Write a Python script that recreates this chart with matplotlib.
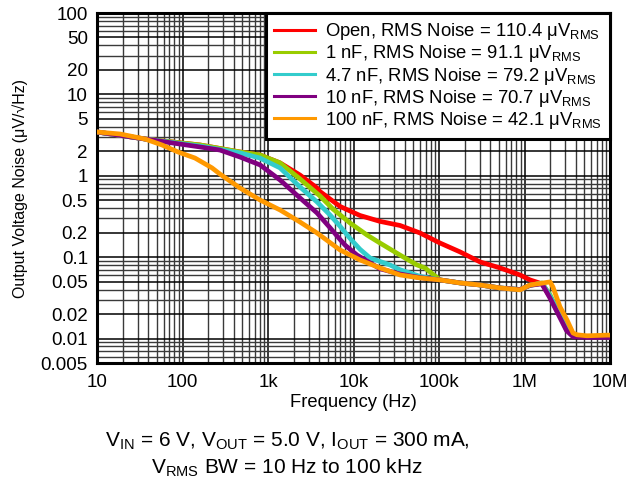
import matplotlib
matplotlib.use("Agg")
import matplotlib.pyplot as plt
from matplotlib.ticker import FixedLocator, FixedFormatter, LogLocator, NullFormatter

plt.rcParams['font.family'] = ['Liberation Sans', 'DejaVu Sans']
plt.rcParams['mathtext.fontset'] = 'custom'
plt.rcParams['mathtext.rm'] = 'Liberation Sans'

# ---- data ----
open_f = [10, 36.4, 160, 470, 806, 1381, 2367, 3742, 4055, 6950, 11900, 20400, 35000,
          60000, 102800, 176000, 302000, 517000, 886000, 1160000, 1600000, 2000000,
          2600000, 3100000, 3700000, 5380000, 10000000]
open_v = [3.45, 2.83, 2.39, 1.96, 1.80, 1.44, 1.02, 0.708, 0.64, 0.42, 0.325, 0.275, 0.245,
          0.198, 0.149, 0.116, 0.0873, 0.0737, 0.0604, 0.0525, 0.047, 0.032,
          0.019, 0.013, 0.0108, 0.0105, 0.0105]

nf1_f = [10, 36.4, 160, 470, 806, 1381, 2367, 4055, 5755, 9100, 14380, 20400, 35000,
         55300, 68600, 102800, 176000, 302000, 517000, 886000, 1160000, 1600000, 2000000,
         2600000, 3100000, 3700000, 5380000, 10000000]
nf1_v = [3.45, 2.83, 2.39, 1.96, 1.80, 1.44, 0.914, 0.565, 0.390, 0.263, 0.187, 0.149, 0.106,
         0.0802, 0.0737, 0.0525, 0.0482, 0.0455, 0.0418, 0.040, 0.045, 0.048, 0.034,
         0.019, 0.013, 0.0108, 0.0105, 0.0105]

nf47_f = [10, 36.4, 160, 470, 806, 1381, 2367, 3742, 5310, 6950, 9100, 11900, 15600, 26700,
          35000, 60000, 102800, 176000, 302000, 517000, 886000, 1160000, 1600000, 2000000,
          2600000, 3100000, 3700000, 5380000, 10000000]
nf47_v = [3.45, 2.83, 2.32, 1.91, 1.65, 1.25, 0.728, 0.477, 0.330, 0.240, 0.170, 0.125,
          0.0977, 0.0802, 0.070, 0.058, 0.0525, 0.0482, 0.0455, 0.0418, 0.040, 0.045,
          0.048, 0.033, 0.019, 0.013, 0.0108, 0.0105, 0.0105]

nf10_f = [10, 36.4, 160, 274, 470, 806, 1381, 2367, 3742, 5310, 6950, 8000, 11000,
          20400, 35000, 60000, 102800, 176000, 302000, 517000, 886000, 1160000, 1600000,
          2000000, 2600000, 3100000, 3700000, 5380000, 10000000]
nf10_v = [3.45, 2.83, 2.26, 2.07, 1.70, 1.36, 0.888, 0.534, 0.349, 0.230, 0.165, 0.140,
          0.106, 0.072, 0.062, 0.056, 0.0525, 0.0482, 0.0455, 0.0418, 0.040, 0.045,
          0.047, 0.031, 0.018, 0.0125, 0.0105, 0.0103, 0.0103]

nf100_f = [10, 18.6, 36.4, 57.5, 88.6, 140, 221, 274, 470, 806, 1381, 2367, 3742, 6950,
           11900, 20400, 35000, 60000, 102800, 176000, 302000, 517000, 886000, 1160000,
           1990000, 2150000, 2600000, 3140000, 3690000, 4110000, 5380000, 9200000, 10000000]
nf100_v = [3.45, 3.26, 2.83, 2.39, 1.96, 1.65, 1.25, 1.05, 0.708, 0.504, 0.380, 0.270,
           0.198, 0.1226, 0.0924, 0.0737, 0.0604, 0.0555, 0.0525, 0.0482, 0.0455, 0.0418,
           0.0396, 0.0455, 0.0496, 0.043, 0.0245, 0.0169, 0.0117, 0.0111, 0.0108, 0.011,
           0.011]

labels = [r'Open, RMS Noise = 110.4 μV$_\mathregular{RMS}$',
          r'1 nF, RMS Noise = 91.1 μV$_\mathregular{RMS}$',
          r'4.7 nF, RMS Noise = 79.2 μV$_\mathregular{RMS}$',
          r'10 nF, RMS Noise = 70.7 μV$_\mathregular{RMS}$',
          r'100 nF, RMS Noise = 42.1 μV$_\mathregular{RMS}$']
colors = ['#ff0000', '#99cc00', '#33cccc', '#800080', '#ff9900']

xticks = [10, 100, 1e3, 1e4, 1e5, 1e6, 1e7]
xticklabels = ['10', '100', '1k', '10k', '100k', '1M', '10M']
yticks = [0.005, 0.01, 0.02, 0.05, 0.1, 0.2, 0.5, 1, 2, 5, 10, 20, 50, 100]
yticklabels = ['0.005', '0.01', '0.02', '0.05', '0.1', '0.2', '0.5', '1', '2', '5',
               '10', '20', '50', '100']

# ---- figure ----
fig = plt.figure(figsize=(6.27, 4.87), dpi=100)
ax = fig.add_axes([97/627, 1-363/487, (610-97)/627, (363-13)/487])

series = [(open_f, open_v), (nf1_f, nf1_v), (nf47_f, nf47_v), (nf10_f, nf10_v), (nf100_f, nf100_v)]
handles = []
for (f, v), c, lab in zip(series, colors, labels):
    ax.plot(f, v, color=c, lw=3.4, solid_joinstyle='round', zorder=3)
    h, = ax.plot([], [], color=c, lw=2.2, label=lab)
    handles.append(h)

ax.set_xscale('log')
ax.set_yscale('log')
ax.set_xlim(10, 1e7)
ax.set_ylim(0.005, 100)

ax.xaxis.set_major_locator(FixedLocator(xticks))
ax.xaxis.set_major_formatter(FixedFormatter(xticklabels))
ax.yaxis.set_major_locator(FixedLocator(yticks))
ax.yaxis.set_major_formatter(FixedFormatter(yticklabels))
ax.xaxis.set_minor_locator(LogLocator(base=10, subs=range(2, 10), numticks=20))
ax.yaxis.set_minor_locator(LogLocator(base=10, subs=range(2, 10), numticks=20))
ax.xaxis.set_minor_formatter(NullFormatter())
ax.yaxis.set_minor_formatter(NullFormatter())

ax.grid(True, which='major', color='black', lw=1.1, zorder=1)
ax.grid(True, which='minor', color='#3a3a3a', lw=1.0, zorder=1)
ax.set_axisbelow(True)

ax.tick_params(which='both', direction='in', length=0, labelsize=13.5)
ax.tick_params(axis='x', pad=8)
ax.tick_params(axis='y', pad=6.5)
for s in ax.spines.values():
    s.set_linewidth(2.2)
    s.set_color('black')

ax.set_xlabel('Frequency (Hz)', fontsize=13.2, labelpad=2)
ax.set_ylabel('Output Voltage Noise (μV/√Hz)', fontsize=11.5, labelpad=9)

leg = ax.legend(handles=handles, loc='upper right', bbox_to_anchor=(1, 1),
                borderaxespad=0, fontsize=13.3, frameon=True, fancybox=False,
                edgecolor='black', framealpha=1, handlelength=2.2,
                labelspacing=0.06, borderpad=0.45, handletextpad=0.55)
leg.get_frame().set_linewidth(2.2)
leg.set_zorder(5)

fig.text(0.458, 1-441/487, r'V$_\mathregular{IN}$ = 6 V, V$_\mathregular{OUT}$ = 5.0 V, I$_\mathregular{OUT}$ = 300 mA,',
         ha='center', va='center', fontsize=15)
fig.text(0.458, 1-468/487, r'V$_\mathregular{RMS}$ BW = 10 Hz to 100 kHz',
         ha='center', va='center', fontsize=15)

fig.savefig('out.png', dpi=100)
